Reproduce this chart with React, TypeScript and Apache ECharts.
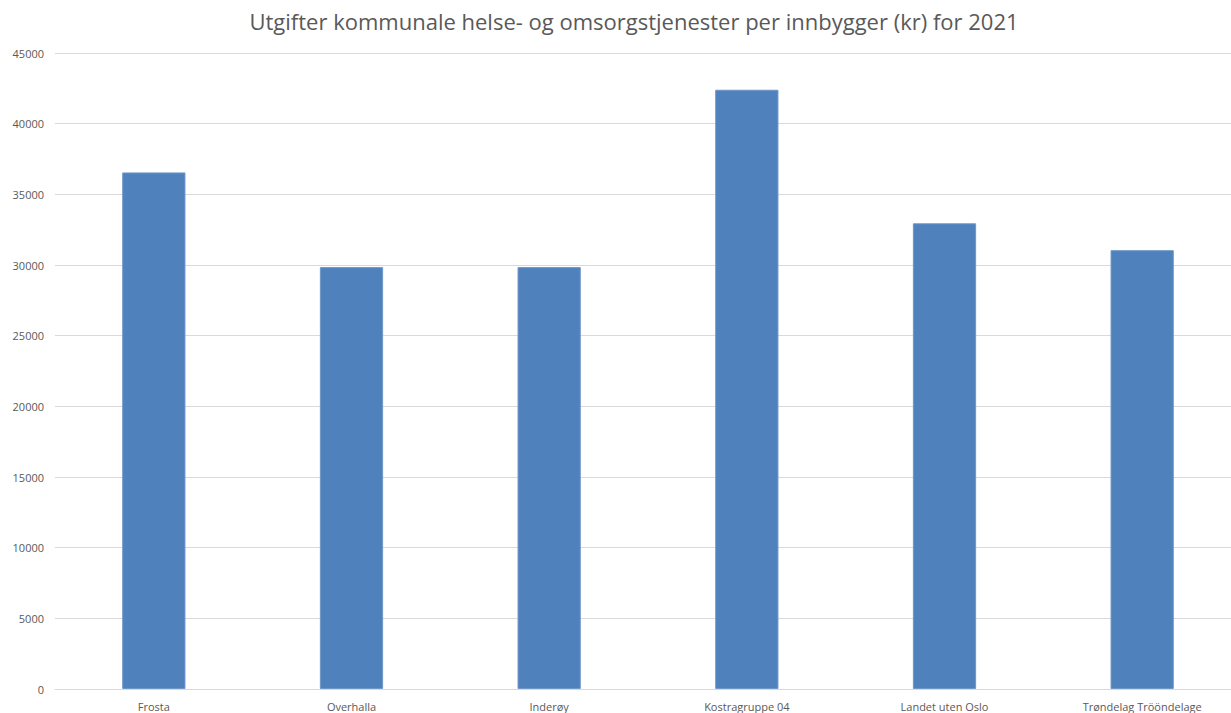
import React, { useEffect, useRef } from "react";
import * as echarts from "echarts";

const categories = [
  "Frosta",
  "Overhalla",
  "Inderøy",
  "Kostragruppe 04",
  "Landet uten Oslo",
  "Trøndelag Trööndelage",
];
const values = [36550, 29850, 29850, 42400, 32950, 31050];
const yTicks = { min: 0, max: 45000, interval: 5000 };
const title = "Utgifter kommunale helse- og omsorgstjenester per innbygger (kr) for 2021";

export default function App() {
  const ref = useRef<HTMLDivElement>(null);
  useEffect(() => {
    if (!ref.current) return;
    const chart = echarts.init(ref.current, undefined, { renderer: "svg" });
    chart.setOption({
      animation: false,
      backgroundColor: "#ffffff",
      title: {
        text: title,
        left: 629,
        textAlign: "center",
        top: 5,
        textStyle: {
          fontFamily: "Open Sans",
          fontSize: 22,
          fontWeight: "normal",
          color: "#595959",
        },
      },
      grid: { left: 55, right: 0, top: 53, bottom: 24, containLabel: false },
      xAxis: {
        type: "category",
        data: categories,
        axisLine: { show: true, lineStyle: { color: "#d9d9d9", width: 1 } },
        axisTick: { show: false },
        axisLabel: {
          color: "#595959",
          fontFamily: "Open Sans",
          fontSize: 11,
          margin: 12,
          interval: 0,
        },
      },
      yAxis: {
        type: "value",
        min: yTicks.min,
        max: yTicks.max,
        interval: yTicks.interval,
        axisLine: { show: false },
        axisTick: { show: false },
        splitLine: { lineStyle: { color: "#d9d9d9", width: 1 } },
        axisLabel: {
          color: "#595959",
          fontFamily: "Open Sans",
          fontSize: 11,
          margin: 11,
          formatter: (v: number) => String(v),
        },
      },
      series: [
        {
          type: "bar",
          data: values,
          barWidth: "32%",
          itemStyle: { color: "#4f81bd", borderColor: "#6f97c8", borderWidth: 1 },
        },
      ],
    });
    return () => chart.dispose();
  }, []);
  return (
    <div
      style={{
        position: "fixed",
        left: 0,
        top: 0,
        width: 1231,
        height: 713,
        overflow: "hidden",
        background: "#fff",
      }}
    >
      <div ref={ref} style={{ width: 1241, height: 713 }} />
    </div>
  );
}
